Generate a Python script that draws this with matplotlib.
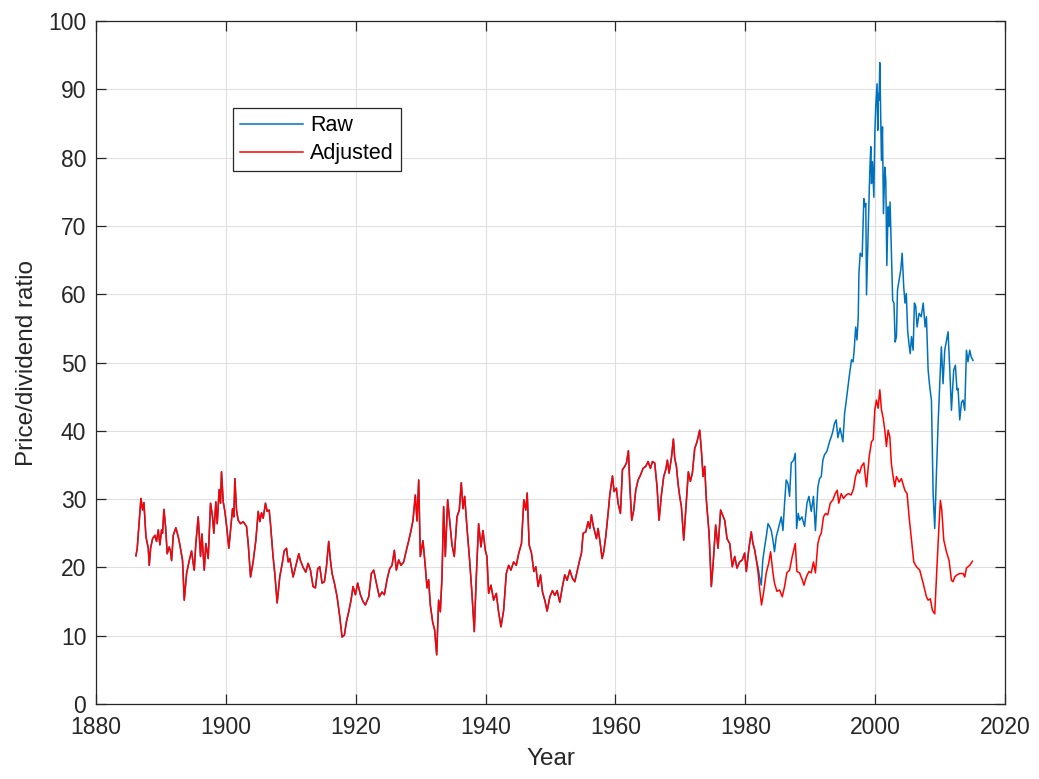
import matplotlib
matplotlib.use("Agg")
import matplotlib.pyplot as plt

# ---- data ----
# Shared history (Raw == Adjusted until early 1980s)
common_years = [
    1886.15, 1886.35, 1886.66, 1886.92, 1887.17, 1887.38, 1887.69, 1888.05, 1888.2, 1888.41,
    1888.71, 1889.07, 1889.33, 1889.59, 1889.84, 1890.1, 1890.25, 1890.46, 1890.71, 1890.97,
    1891.28, 1891.48, 1891.64, 1891.9, 1892.3, 1892.66, 1892.92, 1893.33, 1893.59, 1893.95,
    1894.36, 1894.72, 1894.97, 1895.13, 1895.38, 1895.74, 1896.1, 1896.31, 1896.67, 1896.92,
    1897.28, 1897.64, 1897.95, 1898.15, 1898.46, 1898.67, 1898.97, 1899.18, 1899.33, 1899.59,
    1899.85, 1900.1, 1900.46, 1900.77, 1901.03, 1901.23, 1901.39, 1901.64, 1901.9, 1902.26,
    1902.67, 1903.18, 1903.44, 1903.8, 1904.2, 1904.62, 1904.98, 1905.23, 1905.49, 1905.75,
    1906.1, 1906.36, 1906.67, 1906.87, 1907.28, 1907.54, 1907.9, 1908.3, 1908.72, 1908.98,
    1909.34, 1909.6, 1909.85, 1910.36, 1910.88, 1911.23, 1911.49, 1911.9, 1912.31, 1912.67,
    1913.03, 1913.43, 1913.79, 1914.15, 1914.46, 1914.82, 1915.18, 1915.49, 1915.84, 1916.1,
    1916.36, 1916.72, 1917.13, 1917.54, 1917.9, 1918.26, 1918.56, 1918.92, 1919.28, 1919.59,
    1919.95, 1920.3, 1920.72, 1921.13, 1921.49, 1922.0, 1922.41, 1922.77, 1923.18, 1923.64,
    1924.05, 1924.41, 1924.82, 1925.23, 1925.59, 1925.95, 1926.26, 1926.62, 1926.98, 1927.39,
    1927.8, 1928.16, 1928.52, 1928.82, 1929.18, 1929.44, 1929.7, 1929.95, 1930.36, 1930.72,
    1930.98, 1931.23, 1931.49, 1931.85, 1932.16, 1932.47, 1932.77, 1933.03, 1933.29, 1933.54,
    1933.8, 1934.16, 1934.47, 1934.83, 1935.18, 1935.6, 1935.95, 1936.26, 1936.52, 1936.78,
    1937.13, 1937.54, 1937.9, 1938.26, 1938.57, 1938.93, 1939.29, 1939.6, 1939.96, 1940.21,
    1940.47, 1940.83, 1941.24, 1941.65, 1942.0, 1942.37, 1942.78, 1943.19, 1943.55, 1943.9,
    1944.32, 1944.73, 1945.09, 1945.53, 1945.89, 1946.2, 1946.41, 1946.71, 1947.07, 1947.43,
    1947.74, 1948.1, 1948.46, 1948.77, 1949.12, 1949.48, 1949.9, 1950.3, 1950.66, 1951.02,
    1951.43, 1951.84, 1952.2, 1952.56, 1952.97, 1953.38, 1953.74, 1954.1, 1954.5, 1954.77,
    1955.02, 1955.43, 1955.8, 1956.05, 1956.3, 1956.56, 1956.82, 1957.08, 1957.33, 1957.59,
    1957.95, 1958.2, 1958.51, 1958.87, 1959.13, 1959.54, 1959.8, 1960.15, 1960.41, 1960.77,
    1961.08, 1961.44, 1961.7, 1962.0, 1962.2, 1962.51, 1962.82, 1963.13, 1963.49, 1963.85,
    1964.26, 1964.67, 1965.03, 1965.39, 1965.7, 1966.05, 1966.41, 1966.72, 1967.08, 1967.44,
    1967.75, 1968.0, 1968.26, 1968.62, 1968.93, 1969.13, 1969.39, 1969.64, 1969.9, 1970.16,
    1970.52, 1970.93, 1971.23, 1971.54, 1971.85, 1972.21, 1972.57, 1972.98, 1973.24, 1973.5,
    1973.75, 1974.0, 1974.42, 1974.77, 1975.03, 1975.44, 1975.8, 1976.2, 1976.57, 1976.83,
    1977.19, 1977.6, 1978.0, 1978.37, 1978.72, 1979.13, 1979.54, 1979.9, 1980.16, 1980.56,
    1980.92, 1981.18, 1981.44, 1981.7,
]
common_values = [
    21.7, 22.8, 26.7, 30.1, 28.4, 29.5, 24.5, 22.8, 20.3, 22.8,
    24.2, 24.7, 23.8, 25.5, 23.3, 25.5, 25.0, 28.5, 26.0, 22.0,
    23.0, 22.3, 21.0, 24.7, 25.8, 24.5, 23.3, 21.0, 15.2, 19.1,
    21.0, 22.4, 20.6, 19.6, 23.5, 27.4, 21.6, 24.9, 19.6, 23.5,
    21.3, 29.4, 27.4, 25.0, 29.6, 26.4, 31.4, 29.4, 34.0, 29.6,
    28.2, 26.2, 22.8, 26.0, 28.6, 27.4, 33.0, 28.4, 26.9, 26.4,
    26.7, 26.0, 23.5, 18.6, 20.8, 24.0, 28.2, 26.7, 28.0, 27.2,
    29.4, 28.2, 28.4, 26.4, 21.5, 19.1, 14.8, 18.6, 20.8, 22.4,
    22.8, 20.8, 21.3, 18.6, 20.6, 22.0, 21.0, 20.0, 19.3, 20.6,
    19.6, 17.2, 17.0, 19.8, 20.1, 17.7, 17.9, 20.1, 23.8, 21.1,
    19.1, 17.7, 15.7, 12.8, 9.8, 10.1, 12.0, 13.5, 15.2, 17.2,
    16.0, 17.7, 16.0, 15.0, 14.5, 15.7, 19.1, 19.6, 17.7, 15.7,
    16.4, 16.0, 18.2, 19.8, 20.3, 22.5, 19.6, 21.1, 20.3, 20.8,
    22.5, 23.9, 25.4, 26.9, 30.6, 26.8, 32.8, 21.6, 23.9, 20.1,
    17.0, 18.2, 14.5, 12.0, 10.8, 7.2, 15.2, 13.5, 18.6, 28.9,
    21.6, 29.9, 26.9, 23.3, 21.6, 27.4, 28.4, 32.4, 28.6, 30.4,
    25.9, 21.1, 16.2, 10.6, 18.6, 26.4, 23.0, 25.4, 22.5, 21.6,
    16.2, 17.4, 15.2, 16.2, 13.5, 11.3, 13.7, 19.1, 20.3, 19.6,
    20.8, 20.3, 22.0, 23.5, 29.9, 28.4, 30.9, 23.3, 22.1, 19.4,
    20.1, 17.2, 18.9, 16.4, 15.2, 13.6, 15.7, 16.6, 15.9, 16.6,
    14.9, 17.2, 18.9, 18.1, 19.6, 18.4, 17.9, 19.4, 21.1, 22.1,
    25.0, 25.2, 26.7, 25.7, 27.7, 26.2, 25.2, 24.2, 25.7, 24.0,
    21.3, 22.3, 24.5, 27.9, 30.6, 33.4, 31.1, 31.6, 29.4, 27.9,
    34.3, 34.8, 35.3, 37.1, 32.3, 26.9, 28.4, 31.3, 32.8, 33.5,
    34.5, 34.8, 35.5, 34.5, 35.5, 35.3, 31.8, 26.9, 30.6, 33.3,
    34.3, 35.7, 33.8, 36.0, 38.8, 36.0, 34.8, 32.3, 30.4, 28.9,
    24.0, 29.9, 34.0, 32.6, 33.8, 37.4, 38.4, 40.1, 37.1, 33.3,
    34.8, 29.9, 25.0, 17.2, 20.3, 26.2, 22.8, 28.4, 27.5, 26.9,
    24.2, 23.5, 20.1, 21.6, 19.9, 20.8, 21.1, 22.1, 19.4, 22.8,
    25.2, 23.5, 22.6, 21.1,
]

# Raw series after it departs from the adjusted one
raw_tail_years = [
    1981.95, 1982.2, 1982.46, 1982.7, 1982.98, 1983.23, 1983.5, 1983.74, 1984.0, 1984.26,
    1984.5, 1984.77, 1985.18, 1985.54, 1985.8, 1986.05, 1986.3, 1986.57, 1986.82, 1987.08,
    1987.44, 1987.7, 1987.9, 1988.16, 1988.36, 1988.72, 1989.13, 1989.5, 1989.8, 1990.16,
    1990.5, 1990.8, 1991.18, 1991.44, 1991.7, 1991.95, 1992.2, 1992.57, 1992.98, 1993.4,
    1993.75, 1994.0, 1994.26, 1994.6, 1995.03, 1995.3, 1995.54, 1995.75, 1996.0, 1996.36,
    1996.6, 1996.77, 1997.0, 1997.2, 1997.4, 1997.5, 1997.7, 1998.0, 1998.26, 1998.4,
    1998.56, 1998.67, 1998.9, 1999.08, 1999.18, 1999.33, 1999.44, 1999.59, 1999.8, 1999.95,
    2000.1, 2000.3, 2000.4, 2000.5, 2000.6, 2000.72, 2000.87, 2000.97, 2001.13, 2001.28,
    2001.49, 2001.64, 2001.8, 2002.0, 2002.15, 2002.3, 2002.5, 2002.7, 2002.9, 2003.08,
    2003.28, 2003.44, 2003.7, 2003.95, 2004.16, 2004.4, 2004.6, 2004.8, 2005.0, 2005.2,
    2005.4, 2005.6, 2005.85, 2006.05, 2006.26, 2006.46, 2006.77, 2007.1, 2007.4, 2007.7,
    2007.9, 2008.16, 2008.4, 2008.67, 2008.93, 2009.18, 2009.44, 2009.7, 2009.95, 2010.2,
    2010.46, 2010.72, 2011.23, 2011.5, 2011.75, 2012.1, 2012.36, 2012.6, 2012.77, 2013.03,
    2013.3, 2013.54, 2013.8, 2014.06, 2014.3, 2014.57, 2014.8, 2015.08,
]
raw_tail_values = [
    20.1, 18.6, 17.4, 21.1, 23.0, 24.5, 26.4, 26.0, 25.4, 24.0,
    22.3, 24.5, 26.0, 27.4, 25.4, 29.4, 32.8, 32.3, 30.4, 35.3,
    35.7, 36.7, 25.7, 27.9, 26.9, 27.4, 26.0, 29.4, 30.4, 28.2,
    30.4, 25.4, 31.8, 33.0, 33.3, 35.7, 36.5, 37.0, 38.4, 39.6,
    41.1, 41.6, 39.0, 40.4, 38.4, 42.6, 44.3, 46.0, 47.9, 50.4,
    50.1, 51.8, 55.2, 53.3, 56.7, 63.0, 66.0, 65.5, 74.0, 72.8,
    73.3, 59.9, 68.4, 74.7, 78.1, 81.6, 76.2, 79.4, 74.2, 83.5,
    87.7, 90.8, 84.0, 89.4, 88.4, 93.9, 85.0, 79.6, 84.5, 71.8,
    78.6, 76.7, 64.2, 72.8, 69.9, 73.5, 66.0, 59.1, 58.7, 53.0,
    53.8, 60.6, 62.1, 63.6, 66.0, 61.1, 58.7, 60.1, 54.8, 52.8,
    51.3, 53.8, 51.8, 58.7, 58.2, 55.2, 57.2, 56.7, 58.7, 55.2,
    56.7, 48.9, 46.5, 44.5, 30.8, 25.7, 33.8, 41.1, 46.9, 52.3,
    46.9, 51.8, 54.5, 48.9, 43.0, 48.9, 49.6, 46.0, 46.2, 41.6,
    44.2, 44.5, 43.0, 51.8, 50.1, 51.8, 50.8, 50.3,
]

# Adjusted series after it departs from the raw one
adj_tail_years = [
    1981.95, 1982.2, 1982.5, 1982.8, 1983.23, 1983.6, 1983.9, 1984.26, 1984.5, 1984.87,
    1985.28, 1985.7, 1986.05, 1986.4, 1986.82, 1987.23, 1987.7, 1987.95, 1988.36, 1988.77,
    1989.03, 1989.4, 1989.8, 1990.16, 1990.5, 1990.8, 1991.18, 1991.44, 1991.7, 1992.05,
    1992.36, 1992.7, 1993.08, 1993.5, 1993.85, 1994.16, 1994.4, 1994.77, 1995.13, 1995.54,
    1995.9, 1996.3, 1996.67, 1996.98, 1997.34, 1997.6, 1997.9, 1998.26, 1998.67, 1999.08,
    1999.44, 1999.7, 1999.95, 2000.2, 2000.46, 2000.72, 2000.97, 2001.23, 2001.49, 2001.74,
    2002.0, 2002.26, 2002.5, 2002.77, 2003.03, 2003.28, 2003.7, 2004.05, 2004.57, 2004.92,
    2005.23, 2005.6, 2005.95, 2006.36, 2006.87, 2007.39, 2007.9, 2008.16, 2008.5, 2008.82,
    2009.18, 2009.54, 2009.85, 2010.05, 2010.26, 2010.57, 2010.98, 2011.39, 2011.75, 2012.0,
    2012.26, 2012.6, 2013.03, 2013.54, 2013.8, 2014.06, 2014.57, 2014.98,
]
adj_tail_values = [
    19.4, 17.0, 14.5, 16.2, 19.2, 20.6, 22.3, 19.2, 17.7, 16.5,
    16.7, 15.7, 17.2, 19.2, 19.6, 21.6, 23.5, 19.4, 19.2, 18.2,
    17.4, 18.6, 19.4, 19.2, 20.8, 19.2, 23.5, 24.5, 25.0, 27.4,
    27.9, 27.7, 29.4, 29.9, 30.8, 31.3, 29.4, 30.8, 30.1, 30.6,
    30.8, 30.6, 31.5, 33.3, 34.3, 33.8, 34.8, 35.3, 31.8, 36.2,
    38.4, 38.7, 43.1, 44.5, 43.3, 46.0, 43.1, 41.9, 40.1, 37.7,
    40.1, 39.1, 35.2, 33.3, 31.8, 33.3, 32.5, 33.0, 31.3, 30.8,
    27.4, 24.0, 20.8, 20.1, 19.6, 17.7, 15.7, 15.2, 15.4, 13.7,
    13.2, 20.5, 26.4, 29.8, 28.4, 24.0, 22.3, 21.0, 18.1, 17.9,
    18.6, 18.9, 19.1, 19.1, 18.6, 19.9, 20.3, 20.9,
]

x_ticks = [1880, 1900, 1920, 1940, 1960, 1980, 2000, 2020]
y_ticks = [0, 10, 20, 30, 40, 50, 60, 70, 80, 90, 100]
series_labels = ["Raw", "Adjusted"]

raw_years = common_years + raw_tail_years
raw_values = common_values + raw_tail_values
adj_years = common_years + adj_tail_years
adj_values = common_values + adj_tail_values

# ---- styling ----
plt.rcParams['font.family'] = ['Liberation Sans', 'DejaVu Sans']
dark = '#262626'

fig = plt.figure(figsize=(10.39, 7.79), dpi=100)
ax = fig.add_axes([96 / 1039, 1 - 704 / 779, 909 / 1039, 683 / 779])

ax.plot(raw_years, raw_values, color='#0072BD', lw=1.1, label=series_labels[0])
ax.plot(adj_years, adj_values, color='#FF0000', lw=1.1, label=series_labels[1])

ax.set_xlim(1880, 2020)
ax.set_ylim(0, 100)
ax.set_xticks(x_ticks)
ax.set_yticks(y_ticks)

ax.grid(True, color='#DFDFDF', lw=0.8)
ax.set_axisbelow(True)
for s in ax.spines.values():
    s.set_color(dark)
    s.set_linewidth(0.9)

ax.tick_params(axis='both', which='both', direction='in', length=7, width=0.9,
               colors=dark, labelsize=16.5, top=True, right=True)
ax.tick_params(axis='x', pad=8.5)
ax.tick_params(axis='y', pad=7)

ax.set_xlabel('Year', fontsize=17.5, color=dark)
ax.set_ylabel('Price/dividend ratio', fontsize=17.5, color=dark)
ax.xaxis.set_label_coords(0.5, -0.065)
ax.yaxis.set_label_coords(-0.0634, 0.5)

leg = fig.legend(loc='upper left', bbox_to_anchor=(233 / 1039, 1 - 108 / 779),
                 fontsize=15.5, frameon=True, fancybox=False, framealpha=1,
                 edgecolor=dark, handlelength=2.9, handletextpad=0.35,
                 labelspacing=0.33, borderpad=0.33, borderaxespad=0)
leg.get_frame().set_linewidth(0.9)
for t in leg.get_texts():
    t.set_color('black')

fig.savefig('out.png', dpi=100)
